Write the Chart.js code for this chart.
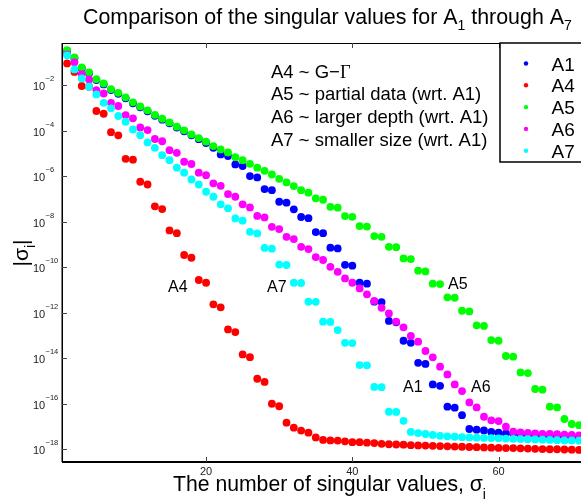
<!DOCTYPE html>
<html>
<head>
<meta charset="utf-8">
<script src="https://cdn.jsdelivr.net/npm/chart.js@4.4.1/dist/chart.umd.min.js"></script>
<style>
  html, body { margin: 0; padding: 0; background: #fff; overflow: hidden; }
  #wrap { width: 600px; height: 503px; }
</style>
</head>
<body>
<div id="wrap"><canvas id="sv" width="600" height="503"></canvas></div>
<script>
// index of the singular value, 1..71
var sigmaIndex = Array.from({ length: 71 }, function (_, k) { return k + 1; });

// log10 |sigma_i| for each matrix
var logA1 = [-0.50, -0.82, -1.26, -1.48, -1.78, -1.97, -2.22, -2.38, -2.58, -2.80,
  -2.98, -3.15, -3.35, -3.52, -3.68, -3.87, -4.03, -4.21, -4.38, -4.55,
  -4.76, -5.05, -5.12, -5.49, -5.56, -6.00, -6.06, -6.57, -6.62, -7.13,
  -7.17, -7.46, -7.80, -7.85, -8.46, -8.51, -9.15, -9.18, -9.90, -9.94,
  -10.69, -10.73, -11.52, -11.54, -12.37, -12.43, -13.24, -13.33, -14.21, -14.26,
  -15.16, -15.22, -16.14, -16.18, -16.51, -17.12, -17.15, -17.18, -17.25, -17.28,
  -17.31, -17.32, -17.34, -17.36, -17.38, -17.40, -17.42, -17.44, -17.46, -17.48, -17.50];

var logA4 = [-1.05, -1.42, -2.04, -2.07, -3.14, -3.26, -4.07, -4.21, -5.24, -5.28,
  -6.25, -6.37, -7.33, -7.45, -8.39, -8.51, -9.47, -9.59, -10.57, -10.69,
  -11.64, -11.77, -12.74, -12.86, -13.84, -13.96, -14.91, -15.05, -16.01, -16.12,
  -16.84, -17.06, -17.19, -17.28, -17.49, -17.60, -17.62, -17.63, -17.66, -17.70,
  -17.70, -17.72, -17.74, -17.77, -17.79, -17.80, -17.81, -17.83, -17.84, -17.85,
  -17.86, -17.87, -17.88, -17.89, -17.90, -17.91, -17.92, -17.93, -17.94, -17.95,
  -17.96, -17.96, -17.97, -17.98, -17.99, -18.00, -18.01, -18.01, -18.02, -18.03, -18.04];

var logA5 = [-0.46, -0.78, -1.22, -1.44, -1.74, -1.93, -2.18, -2.34, -2.54, -2.76,
  -2.94, -3.11, -3.31, -3.48, -3.64, -3.83, -3.99, -4.17, -4.33, -4.49,
  -4.68, -4.83, -4.96, -5.17, -5.30, -5.46, -5.63, -5.77, -5.93, -6.12,
  -6.28, -6.44, -6.62, -6.73, -6.98, -7.04, -7.35, -7.39, -7.76, -7.79,
  -8.20, -8.22, -8.64, -8.67, -9.11, -9.13, -9.62, -9.65, -10.16, -10.19,
  -10.73, -10.75, -11.33, -11.35, -11.92, -11.95, -12.56, -12.59, -13.21, -13.24,
  -13.91, -13.94, -14.63, -14.66, -15.36, -15.39, -16.14, -16.17, -16.68, -16.90, -16.95];

var logA6 = [-0.65, -1.00, -1.52, -1.75, -2.22, -2.37, -2.78, -2.92, -3.32, -3.46,
  -3.86, -3.98, -4.37, -4.47, -4.86, -4.98, -5.37, -5.47, -5.85, -5.96,
  -6.32, -6.43, -6.79, -6.91, -7.24, -7.38, -7.75, -7.82, -8.23, -8.33,
  -8.67, -8.77, -9.11, -9.21, -9.56, -9.69, -9.99, -10.21, -10.50, -10.69,
  -10.94, -11.20, -11.49, -11.79, -12.04, -12.40, -12.65, -13.03, -13.28, -13.69,
  -13.97, -14.38, -14.72, -15.16, -15.45, -15.95, -16.17, -16.58, -16.74, -16.77,
  -17.02, -17.24, -17.27, -17.29, -17.31, -17.33, -17.34, -17.35, -17.37, -17.38, -17.40];

var logA7 = [-0.69, -1.31, -1.71, -2.07, -2.41, -2.78, -3.02, -3.36, -3.61, -3.95,
  -4.20, -4.52, -4.76, -5.08, -5.30, -5.63, -5.85, -6.15, -6.37, -6.69,
  -6.91, -7.24, -7.42, -7.86, -7.96, -8.45, -8.52, -9.16, -9.19, -9.89,
  -9.91, -10.69, -10.70, -11.52, -11.53, -12.40, -12.41, -12.77, -13.33, -13.34,
  -14.31, -14.32, -15.27, -15.28, -16.36, -16.37, -16.76, -17.25, -17.30, -17.34,
  -17.38, -17.42, -17.44, -17.46, -17.48, -17.49, -17.50, -17.51, -17.52, -17.53,
  -17.54, -17.55, -17.56, -17.57, -17.58, -17.59, -17.60, -17.61, -17.62, -17.62, -17.63];

var seriesNames = ['A1', 'A4', 'A5', 'A6', 'A7'];
var seriesLogs = [logA1, logA4, logA5, logA6, logA7];
var seriesColors = ['#0000ff', '#ff0000', '#00ff00', '#ff00ff', '#00ffff'];

var xTickValues = [20, 40, 60];
var yTickExponents = [-18, -16, -14, -12, -10, -8, -6, -4, -2];

var noteLines = ['A4 ~ G\u2212', 'A5 ~ partial data (wrt. A1)', 'A6 ~ larger depth (wrt. A1)', 'A7 ~ smaller size (wrt. A1)'];

var SANS = '"Liberation Sans", Arial, sans-serif';
var SERIF = '"Liberation Serif", "Times New Roman", serif';

function toPoints(logs) {
  return logs.map(function (e, k) { return { x: sigmaIndex[k], y: Math.pow(10, e) }; });
}

// text with subscripts: parts = [[text, size, dy, family]]
function drawRuns(ctx, parts, x, y) {
  parts.forEach(function (p) {
    ctx.font = p[1] + 'px ' + (p[3] || SANS);
    ctx.fillText(p[0], x, y + (p[2] || 0));
    x += ctx.measureText(p[0]).width;
  });
}
function runsWidth(ctx, parts) {
  var w = 0;
  parts.forEach(function (p) {
    ctx.font = p[1] + 'px ' + (p[3] || SANS);
    w += ctx.measureText(p[0]).width;
  });
  return w;
}

var decorations = {
  id: 'decorations',
  afterDraw: function (chart) {
    var ctx = chart.ctx;
    var area = chart.chartArea;
    var xs = chart.scales.x, ys = chart.scales.y;
    ctx.save();
    ctx.fillStyle = '#000';
    ctx.strokeStyle = '#000';
    ctx.textBaseline = 'alphabetic';
    ctx.textAlign = 'left';

    // axes box (right side runs off the page)
    ctx.lineWidth = 1;
    ctx.beginPath();
    ctx.moveTo(area.left, area.top + 0.5);
    ctx.lineTo(area.right, area.top + 0.5);
    ctx.stroke();
    ctx.lineWidth = 1.5;
    ctx.beginPath();
    ctx.moveTo(area.left + 0.25, area.top);
    ctx.lineTo(area.left + 0.25, area.bottom);
    ctx.stroke();
    ctx.lineWidth = 2;
    ctx.beginPath();
    ctx.moveTo(area.left, area.bottom);
    ctx.lineTo(area.right, area.bottom);
    ctx.stroke();

    // inward ticks
    ctx.lineWidth = 1;
    ctx.strokeStyle = '#444';
    xTickValues.forEach(function (v) {
      var px = Math.round(xs.getPixelForValue(v)) + 0.5;
      ctx.beginPath();
      ctx.moveTo(px, area.bottom); ctx.lineTo(px, area.bottom - 5);
      ctx.moveTo(px, area.top); ctx.lineTo(px, area.top + 5);
      ctx.stroke();
    });
    yTickExponents.forEach(function (e) {
      var py = Math.round(ys.getPixelForValue(Math.pow(10, e))) + 0.5;
      ctx.beginPath();
      ctx.moveTo(area.left, py); ctx.lineTo(area.left + 5, py);
      ctx.stroke();
    });

    // tick labels
    ctx.fillStyle = '#222';
    ctx.textBaseline = 'middle';
    ctx.textAlign = 'center';
    ctx.font = '11px ' + SANS;
    xTickValues.forEach(function (v) {
      ctx.fillText(String(v), xs.getPixelForValue(v), area.bottom + 10);
    });
    ctx.textAlign = 'left';
    yTickExponents.forEach(function (e) {
      var py = ys.getPixelForValue(Math.pow(10, e));
      ctx.font = '11px ' + SANS;
      ctx.fillText('10', 33, py + 2);
      ctx.font = '7.5px ' + SANS;
      ctx.fillText('\u2212' + Math.abs(e), 45.5, py - 6);
    });

    // legend box
    ctx.fillStyle = '#fff';
    ctx.fillRect(500, area.top, 120, 119);
    ctx.strokeStyle = '#000';
    ctx.lineWidth = 1.5;
    ctx.strokeRect(500, area.top, 120, 119);
    ctx.textBaseline = 'alphabetic';
    seriesNames.forEach(function (name, k) {
      var cy = 63.5 + k * 21.8;
      ctx.fillStyle = seriesColors[k];
      ctx.beginPath();
      ctx.arc(526, cy, 2.2, 0, Math.PI * 2);
      ctx.fill();
      ctx.fillStyle = '#000';
      ctx.font = '19px ' + SANS;
      ctx.fillText(name, 551.5, cy + 7);
    });

    // notes block
    ctx.fillStyle = '#000';
    noteLines.forEach(function (line, k) {
      var by = 77.5 + k * 22.7;
      ctx.font = '18.5px ' + SANS;
      ctx.fillText(line, 271, by);
      if (k === 0) {
        var w = ctx.measureText(line).width;
        ctx.font = '18.5px ' + SERIF;
        ctx.fillText('\u0393', 271 + w, by);
      }
    });

    // curve labels
    ctx.font = '16px ' + SANS;
    ctx.fillText('A4', 168, 292);
    ctx.fillText('A7', 267, 292);
    ctx.fillText('A5', 448, 289);
    ctx.fillText('A1', 403, 392);
    ctx.fillText('A6', 471, 392);

    // title
    drawRuns(ctx, [
      ['Comparison of the singular values for A', 21.4],
      ['1', 14, 6],
      [' through A', 21.4],
      ['7', 14, 6]
    ], 83, 23.5);

    // x axis title
    drawRuns(ctx, [
      ['The number of singular values, \u03c3', 21.2],
      ['i', 14, 8]
    ], 173, 491);

    // y axis title
    var yParts = [['|\u03c3', 21], ['i', 14, 7], ['|', 21]];
    ctx.translate(27.5, 253);
    ctx.rotate(-Math.PI / 2);
    drawRuns(ctx, yParts, -runsWidth(ctx, yParts) / 2, 0);

    ctx.restore();
  }
};

var datasets = seriesNames.map(function (name, k) {
  return {
    label: name,
    data: toPoints(seriesLogs[k]),
    backgroundColor: seriesColors[k],
    borderWidth: 0,
    pointRadius: 3.9,
    pointHoverRadius: 3.9,
    showLine: false,
    order: seriesNames.length - 1 - k
  };
});

new Chart(document.getElementById('sv').getContext('2d'), {
  type: 'scatter',
  data: { datasets: datasets },
  options: {
    responsive: false,
    animation: false,
    events: [],
    layout: { padding: { left: 62, top: 43, right: 10, bottom: 41 } },
    plugins: { legend: { display: false }, tooltip: { enabled: false } },
    scales: {
      x: { type: 'linear', min: 0.3, max: 72.5, display: false },
      y: { type: 'logarithmic', min: Math.pow(10, -18.57), max: Math.pow(10, -0.15), display: false }
    }
  },
  plugins: [decorations]
});
</script>
</body>
</html>
